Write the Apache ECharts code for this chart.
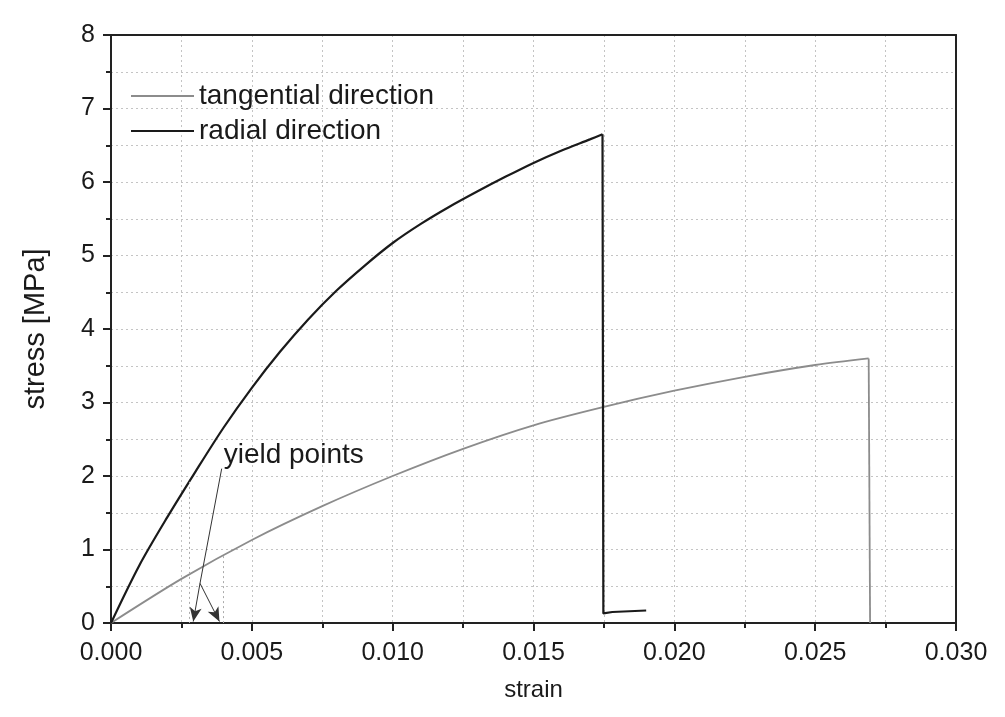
<!DOCTYPE html>
<html>
<head>
<meta charset="utf-8">
<script src="https://cdn.jsdelivr.net/npm/echarts@6/dist/echarts.min.js"></script>
<style>
html, body { margin: 0; padding: 0; background: #fff; }
#chart { width: 1005px; height: 717px; }
</style>
</head>
<body>
<div id="chart"></div>
<script>
// values (loading branch, then the drop after failure)
const radialStrain = [0, 0.001, 0.002, 0.003, 0.004, 0.005, 0.006, 0.007, 0.008, 0.009, 0.010, 0.011, 0.012, 0.013, 0.014, 0.015, 0.016, 0.017, 0.01745]
const radialStress = [0, 0.78, 1.44, 2.06, 2.66, 3.20, 3.69, 4.13, 4.52, 4.86, 5.17, 5.43, 5.66, 5.87, 6.07, 6.26, 6.43, 6.58, 6.65]
const radialDropStrain = [0.01745, 0.01748, 0.0178, 0.0190]
const radialDropStress = [6.65, 0.13, 0.15, 0.17]

const tangStrain = [0, 0.0025, 0.0050, 0.0075, 0.0100, 0.0125, 0.0150, 0.0175, 0.0200, 0.0225, 0.0250, 0.0269]
const tangStress = [0, 0.60, 1.13, 1.59, 2.00, 2.37, 2.69, 2.94, 3.16, 3.35, 3.51, 3.60]
const tangDropStrain = [0.0269, 0.02695]
const tangDropStress = [3.60, 0]

// yield points: [strain, stress] on each curve
const yieldPoints = [[0.00278, 1.92], [0.0040, 0.91]]
// leader line for the "yield points" note: label anchor, junction, two arrow tips
const noteAnchor = [0.00393, 2.10]
const noteJoin = [0.00316, 0.54]
const noteTips = [[0.00292, 0.02], [0.00385, 0.02]]
const noteLabelAt = [0.0040, 2.28]

const xTicks = { min: 0, max: 0.03, step: 0.005 }
const yTicks = { min: 0, max: 8, step: 1 }

const pairs = (xs, ys) => xs.map((x, i) => [x, ys[i]])

const font = 'Liberation Sans, Arial, sans-serif'
const txt = '#1a1a1a'
const gridLine = { color: '#c4c4c4', type: [2, 3], width: 1 }
const frame = { color: '#222', width: 2 }
const tangStyle = { color: '#8c8c8c', width: 1.8 }
const radialStyle = { color: '#1a1a1a', width: 2.2 }

const chart = echarts.init(document.getElementById('chart'))

const noteLines = [
  [{ coord: noteAnchor }, { coord: noteJoin }],
  ...noteTips.map(t => [{ coord: noteJoin }, { coord: t, symbol: 'arrow', symbolSize: [9, 14] }])
]
const dropLines = yieldPoints.map(p => [
  { coord: p, lineStyle: { color: '#aaa', type: [2, 3], width: 1 } },
  { coord: [p[0], 0] }
])

// plain frame axes on top and right
const frameAxis = {
  type: 'value',
  axisLine: { show: true, onZero: false, lineStyle: frame },
  axisTick: { show: false },
  axisLabel: { show: false },
  splitLine: { show: false }
}

const lineSeries = (name, data, style, smooth, z) => ({
  name, type: 'line', data,
  showSymbol: false, symbol: 'none',
  smooth,
  lineStyle: style,
  itemStyle: { color: style.color },
  z
})

chart.setOption({
  animation: false,
  backgroundColor: '#fff',
  grid: { left: 111, right: 49, top: 35, bottom: 94 },
  legend: {
    data: ['tangential direction', 'radial direction'],
    orient: 'vertical',
    left: 126, top: 77,
    icon: 'rect',
    itemWidth: 63, itemHeight: 2, itemGap: 7,
    textStyle: { fontFamily: font, fontSize: 28, color: txt, lineHeight: 28 }
  },
  xAxis: [{
    type: 'value',
    min: xTicks.min, max: xTicks.max, interval: xTicks.step,
    name: 'strain', nameLocation: 'middle', nameGap: 55,
    nameTextStyle: { fontFamily: font, fontSize: 24, color: txt },
    axisLine: { lineStyle: frame },
    axisTick: { show: true, length: 8, lineStyle: frame },
    minorTick: { show: true, splitNumber: 2, length: 5, lineStyle: frame },
    axisLabel: { fontFamily: font, fontSize: 25, color: txt, margin: 18, formatter: v => v.toFixed(3) },
    splitLine: { show: true, lineStyle: gridLine },
    minorSplitLine: { show: true, lineStyle: gridLine }
  }, Object.assign({ position: 'top', min: xTicks.min, max: xTicks.max }, frameAxis)],
  yAxis: [{
    type: 'value',
    min: yTicks.min, max: yTicks.max, interval: yTicks.step,
    name: 'stress [MPa]', nameLocation: 'middle', nameGap: 61,
    nameTextStyle: { fontFamily: font, fontSize: 29, color: txt },
    axisLine: { lineStyle: frame },
    axisTick: { show: true, length: 8, lineStyle: frame },
    minorTick: { show: true, splitNumber: 2, length: 5, lineStyle: frame },
    axisLabel: { fontFamily: font, fontSize: 25, color: txt, margin: 16 },
    splitLine: { show: true, lineStyle: gridLine },
    minorSplitLine: { show: true, lineStyle: gridLine }
  }, Object.assign({ position: 'right', min: yTicks.min, max: yTicks.max }, frameAxis)],
  series: [
    lineSeries('tangential direction', pairs(tangStrain, tangStress), tangStyle, 0.3, 3),
    lineSeries('tangential direction', pairs(tangDropStrain, tangDropStress), tangStyle, false, 3),
    lineSeries('radial direction', pairs(radialStrain, radialStress), radialStyle, 0.3, 4),
    lineSeries('radial direction', pairs(radialDropStrain, radialDropStress), radialStyle, false, 4),
    {
      name: 'note',
      type: 'line',
      data: [],
      z: 5,
      markLine: {
        silent: true,
        symbol: ['none', 'none'],
        label: { show: false },
        lineStyle: { color: '#333', type: 'solid', width: 1 },
        data: [...dropLines, ...noteLines]
      },
      markPoint: {
        silent: true,
        symbol: 'circle', symbolSize: 0,
        label: {
          show: true, position: 'right', distance: 0,
          formatter: 'yield points',
          fontFamily: font, fontSize: 28, color: txt
        },
        data: [{ coord: noteLabelAt }]
      }
    }
  ]
})
</script>
</body>
</html>
